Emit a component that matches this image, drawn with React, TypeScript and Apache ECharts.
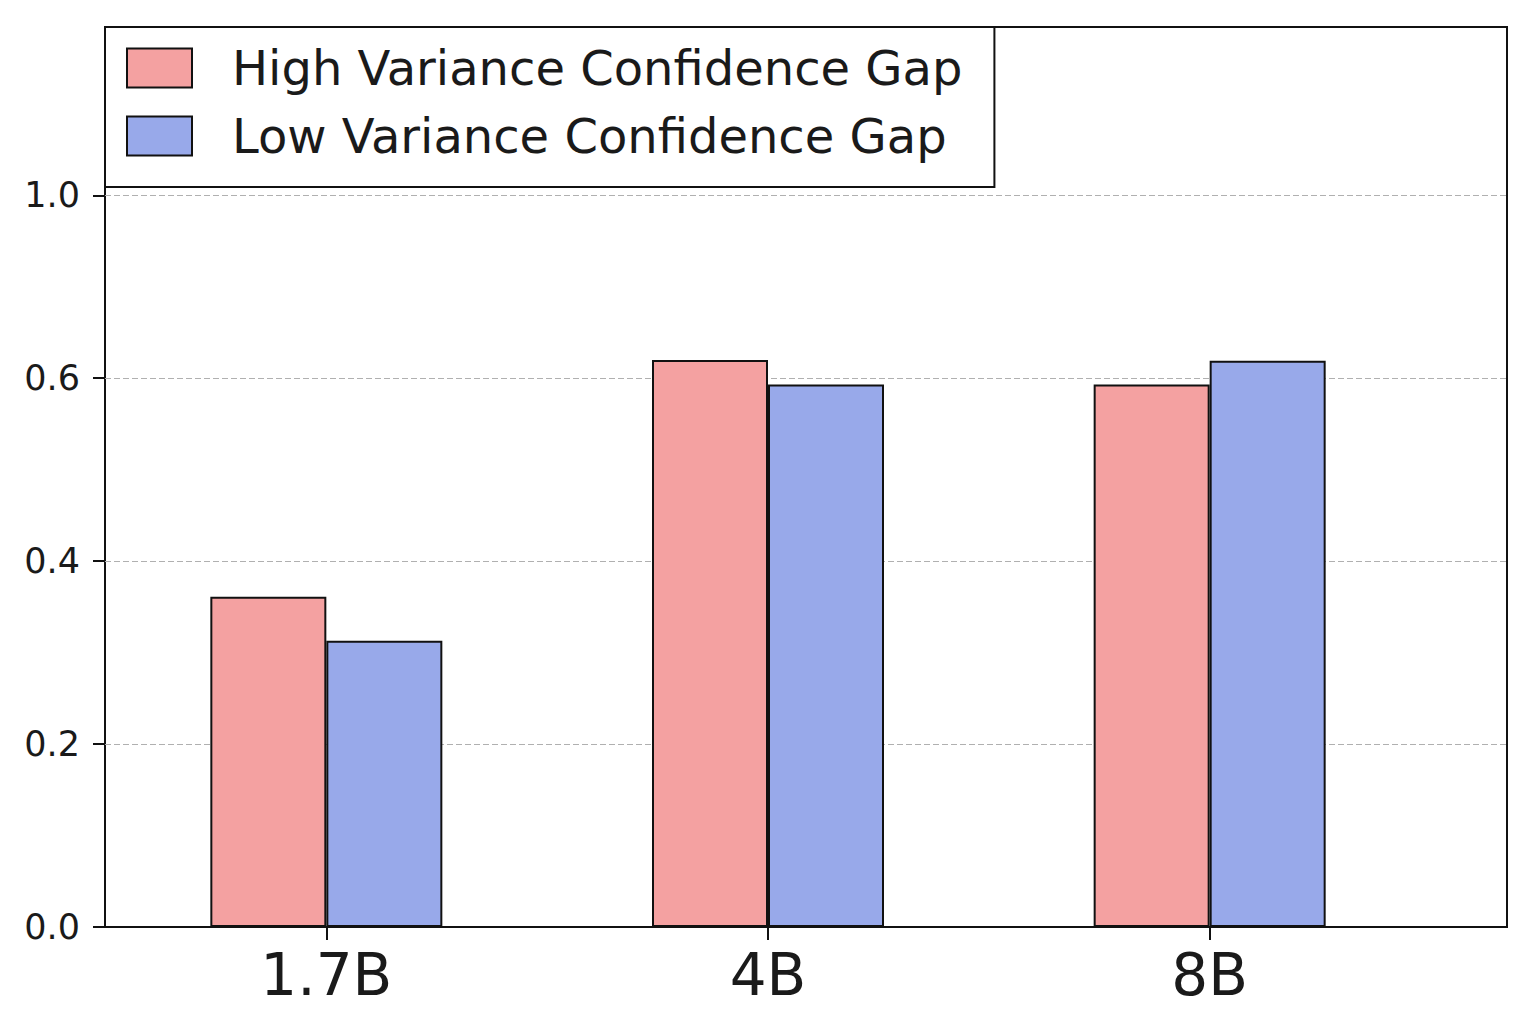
import React, { useEffect, useRef } from "react";
import * as echarts from "echarts";

const categories = ["1.7B", "4B", "8B"];
const seriesNames = ["High Variance Confidence Gap", "Low Variance Confidence Gap"];
const highVariance = [0.361, 0.62, 0.593];
const lowVariance = [0.313, 0.593, 0.619];
const yTickValues = [0, 0.2, 0.4, 0.6, 0.8];
const yTickLabels = ["0.0", "0.2", "0.4", "0.6", "1.0"];
const yMax = 0.984;

const FONT = "DejaVu Sans";

export default function App() {
  const ref = useRef<HTMLDivElement>(null);
  useEffect(() => {
    if (!ref.current) return;
    const chart = echarts.init(ref.current, null, { renderer: "svg" });
    const barStyle = (color: string) => ({
      color,
      borderColor: "#111",
      borderWidth: 2,
    });
    chart.setOption({
      animation: false,
      backgroundColor: "#fff",
      grid: [
        {
          left: 105,
          right: 29,
          top: 27,
          bottom: 97,
          show: true,
          borderColor: "#111",
          borderWidth: 2,
          backgroundColor: "transparent",
        },
        {
          left: 105.5,
          right: 105.5,
          top: 27,
          bottom: 97,
        },
      ],
      legend: {
        data: seriesNames,
        orient: "vertical",
        left: 105,
        top: 27,
        icon: "rect",
        itemWidth: 65,
        itemHeight: 39,
        itemGap: 16,
        borderColor: "#111",
        borderWidth: 2,
        borderRadius: 0,
        backgroundColor: "#fff",
        padding: [15, 32, 25, 21],
        textStyle: {
          fontFamily: FONT,
          fontSize: 48,
          color: "#1a1a1a",
          lineHeight: 52,
          padding: [0, 0, 0, 35],
        },
        selectedMode: false,
      },
      xAxis: [
        {
          type: "value",
          gridIndex: 0,
          min: 0,
          max: 1,
          z: 5,
          axisLine: { show: true, lineStyle: { color: "#111", width: 2 } },
          axisTick: { show: false },
          axisLabel: { show: false },
          splitLine: { show: false },
        },
        {
          type: "category",
          gridIndex: 1,
          data: categories,
          axisLine: { show: false },
          axisTick: {
            show: true,
            alignWithLabel: true,
            length: 13,
            lineStyle: { color: "#111", width: 2 },
          },
          axisLabel: {
            fontFamily: FONT,
            fontSize: 58,
            color: "#1a1a1a",
            margin: 19,
          },
          splitLine: { show: false },
        },
      ],
      yAxis: [
        {
          type: "value",
          gridIndex: 0,
          min: 0,
          max: yMax,
          interval: 0.2,
          axisLine: { show: false },
          axisTick: {
            show: true,
            length: 12,
            customValues: yTickValues,
            lineStyle: { color: "#111", width: 2 },
          },
          axisLabel: {
            fontFamily: FONT,
            fontSize: 35,
            color: "#1a1a1a",
            margin: 25,
            customValues: yTickValues,
            formatter: (v: number) => {
              const i = yTickValues.findIndex((t) => Math.abs(t - v) < 1e-6);
              return i >= 0 ? yTickLabels[i] : "";
            },
          },
          splitLine: {
            show: true,
            lineStyle: { color: "#b0b0b0", width: 1.2, type: [6, 3] },
          },
        },
        {
          type: "value",
          gridIndex: 1,
          min: 0,
          max: yMax,
          show: false,
          splitLine: { show: false },
        },
      ],
      series: [
        {
          name: seriesNames[0],
          type: "bar",
          xAxisIndex: 1,
          yAxisIndex: 1,
          data: highVariance,
          barWidth: 116,
          barGap: "0%",
          itemStyle: barStyle("#F4A1A1"),
          emphasis: { disabled: true },
        },
        {
          name: seriesNames[1],
          type: "bar",
          xAxisIndex: 1,
          yAxisIndex: 1,
          data: lowVariance,
          barWidth: 116,
          barGap: "0%",
          itemStyle: barStyle("#98A9EA"),
          emphasis: { disabled: true },
        },
      ],
    });
    return () => chart.dispose();
  }, []);
  return (
    <div
      ref={ref}
      style={{ position: "absolute", left: 0, top: 0, width: 1536, height: 1024 }}
    />
  );
}
